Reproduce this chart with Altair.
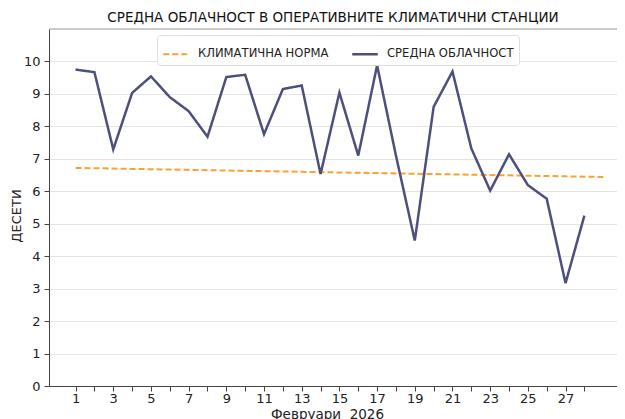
import altair as alt
import pandas as pd

# ---- data ----
days = list(range(1, 29))
mean_cloud = [9.75, 9.67, 7.29, 9.03, 9.54, 8.90, 8.47, 7.68, 9.52, 9.59,
              7.76, 9.15, 9.26, 6.53, 9.04, 7.10, 9.88, 7.10, 4.48, 8.60,
              9.69, 7.32, 6.02, 7.14, 6.19, 5.77, 3.17, 5.25]
norm_days = list(range(1, 30))
norm_vals = [6.72, 6.71, 6.70, 6.69, 6.68, 6.67, 6.66, 6.65, 6.64, 6.63,
             6.62, 6.61, 6.60, 6.59, 6.58, 6.57, 6.56, 6.55, 6.54, 6.53,
             6.52, 6.51, 6.50, 6.49, 6.48, 6.47, 6.46, 6.45, 6.44]
series_names = ["КЛИМАТИЧНА НОРМА", "СРЕДНА ОБЛАЧНОСТ"]
series_colors = ["#ff9f30", "#4d4f7c"]
x_ticks = list(range(1, 29))
y_ticks = list(range(0, 11))
title_text = "СРЕДНА ОБЛАЧНОСТ В ОПЕРАТИВНИТЕ КЛИМАТИЧНИ СТАНЦИИ"
x_title = "Февруари\u00a0 2026"
y_title = "ДЕСЕТИ"

df = pd.concat([
    pd.DataFrame({"day": norm_days, "value": norm_vals, "series": series_names[0]}),
    pd.DataFrame({"day": days, "value": mean_cloud, "series": series_names[1]}),
], ignore_index=True)

FONT = "DejaVu Sans"
AX = "#444444"
W, H = 568, 357

x_enc = alt.X(
    "day:Q",
    scale=alt.Scale(domain=[-0.41, 29.73], nice=False, zero=False),
    axis=alt.Axis(
        values=x_ticks,
        labelExpr="datum.value % 2 == 1 ? datum.label : ''",
        grid=False, title=x_title, titleFontWeight="normal",
        titleFontSize=13.5, titleColor="#222",
        titleX=W / 2 - 6, titleY=28, titleBaseline="middle", titleAlign="center",
        labelFontSize=13, labelColor="#222", labelPadding=1,
        domainColor=AX, tickColor=AX, tickSize=5, labelFlush=False,
        labelOverlap=False,
    ),
)
y_axis = alt.Axis(
    values=y_ticks, grid=True, gridColor="#e4e4e4",
    title=y_title, titleFontWeight="normal", titleFontSize=13,
    titleColor="#222", titleAngle=-90,
    titleX=-33, titleY=H / 2 + 8, titleBaseline="middle", titleAlign="center",
    labelFontSize=13, labelColor="#222", labelPadding=4,
    domainColor=AX, tickColor=AX, tickSize=5, labelOverlap=False,
)
y_scale = alt.Scale(domain=[0, 11], nice=False)

legend = alt.Legend(
    title=None, orient="none", legendX=108, legendY=6,
    direction="horizontal", columns=2, columnPadding=18,
    fillColor="white", strokeColor="#dddddd", padding=5, cornerRadius=3,
    symbolType="stroke", symbolSize=650, symbolStrokeWidth=2.2,
    labelFontSize=11.6, labelColor="#222", labelFont=FONT, labelOffset=8,
)

lines = alt.Chart(df).mark_line().encode(
    x=x_enc,
    y=alt.Y("value:Q", scale=y_scale, axis=y_axis),
    color=alt.Color("series:N", scale=alt.Scale(domain=series_names, range=series_colors),
                    sort=series_names, legend=legend),
    strokeDash=alt.StrokeDash("series:N", scale=alt.Scale(domain=series_names, range=[[6, 3], [1, 0]]),
                              sort=series_names, legend=legend),
    strokeWidth=alt.StrokeWidth("series:N", scale=alt.Scale(domain=series_names, range=[2, 2.5]),
                                legend=None),
    order=alt.Order("day:Q"),
)

top_rule = alt.Chart(pd.DataFrame({"value": [11]})).mark_rule(color="#999999", strokeWidth=1).encode(
    y=alt.Y("value:Q", scale=y_scale, axis=y_axis)
)

chart = alt.layer(lines, top_rule).properties(
    width=W, height=H,
    title=alt.TitleParams(title_text, fontSize=13.5, font=FONT, fontWeight="normal",
                          color="#111", anchor="middle", offset=4),
    autosize=alt.AutoSizeParams(type="none"),
    padding={"left": 41, "top": 21, "right": 0, "bottom": 35},
).configure(font=FONT).configure_view(stroke=None)

chart.save("out.html", embed_options={"renderer": "svg", "actions": False})
